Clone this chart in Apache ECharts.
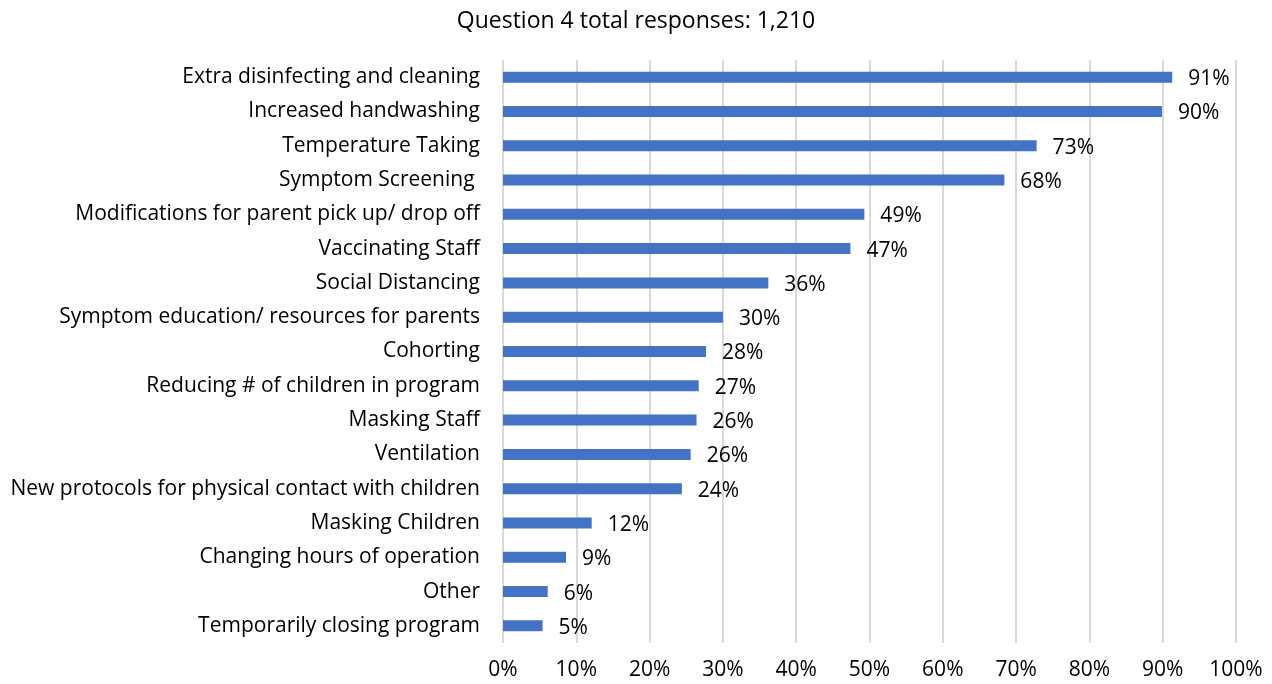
<!DOCTYPE html>
<html>
<head>
<meta charset="utf-8">
<script src="https://cdn.jsdelivr.net/npm/echarts@6/dist/echarts.min.js"></script>
<style>
  html, body { margin: 0; padding: 0; background: #fff; }
  #chart { width: 1272px; height: 684px; }
</style>
</head>
<body>
<div id="chart"></div>
<script>
// Survey measures, listed top to bottom as shown
const categories = [
  'Extra disinfecting and cleaning',
  'Increased handwashing',
  'Temperature Taking',
  'Symptom Screening ',
  'Modifications for parent pick up/ drop off',
  'Vaccinating Staff',
  'Social Distancing',
  'Symptom education/ resources for parents',
  'Cohorting',
  'Reducing # of children in program',
  'Masking Staff',
  'Ventilation',
  'New protocols for physical contact with children',
  'Masking Children',
  'Changing hours of operation',
  'Other',
  'Temporarily closing program'
];
// Share of respondents (%)
const shares = [91.3, 89.9, 72.8, 68.4, 49.3, 47.4, 36.2, 30.0, 27.7, 26.7, 26.4, 25.6, 24.4, 12.1, 8.6, 6.1, 5.4];
const tickValues = [0, 10, 20, 30, 40, 50, 60, 70, 80, 90, 100];
const titleText = 'Question 4 total responses: 1,210';

const FONT = 'Open Sans';
const chart = echarts.init(document.getElementById('chart'));
chart.setOption({
  animation: false,
  title: {
    text: titleText,
    left: 'center',
    top: 5,
    textStyle: { fontFamily: FONT, fontSize: 23, fontWeight: 'normal', color: '#000' }
  },
  grid: { left: 503, right: 36, top: 60, bottom: 41, containLabel: false },
  xAxis: {
    type: 'value',
    min: tickValues[0],
    max: tickValues[tickValues.length - 1],
    interval: 10,
    axisLine: { show: false },
    axisTick: { show: false },
    splitLine: { show: true, lineStyle: { color: '#d9d9d9', width: 2 } },
    axisLabel: {
      formatter: v => v + '%',
      fontFamily: FONT, fontSize: 21, color: '#000', margin: 17
    }
  },
  yAxis: {
    type: 'category',
    data: categories,
    inverse: true,
    axisLine: { show: false },
    axisTick: { show: false },
    axisLabel: { fontFamily: FONT, fontSize: 21, color: '#000', margin: 23, padding: [4, 0, 0, 0] }
  },
  series: [{
    type: 'bar',
    data: shares,
    barWidth: 11,
    itemStyle: { color: '#4472C4' },
    label: {
      show: true,
      position: 'right',
      distance: 16,
      offset: [0, 2],
      formatter: p => Math.round(p.value) + '%',
      fontFamily: FONT, fontSize: 21, color: '#000'
    }
  }]
});
</script>
</body>
</html>
